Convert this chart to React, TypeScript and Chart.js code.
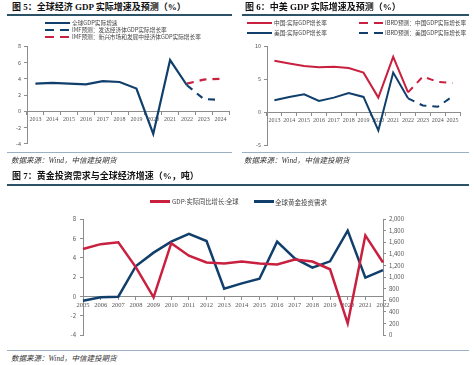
import React, { useEffect, useRef } from "react";
import { Chart, registerables } from "chart.js";
Chart.register(...registerables);

// ---------- Chart 5 data ----------
const years5 = ["2013", "2014", "2015", "2016", "2017", "2018", "2019", "2020", "2021", "2022", "2023", "2024"];
const world5 = [3.4, 3.5, 3.4, 3.3, 3.7, 3.6, 2.8, -2.8, 6.3, 3.2, null, null];
const advanced5 = [null, null, null, null, null, null, null, null, null, 3.2, 1.5, 1.4];
const emerging5 = [null, null, null, null, null, null, null, null, null, 3.4, 3.9, 4.0];

// ---------- Chart 6 data ----------
const years6 = ["2013", "2014", "2015", "2016", "2017", "2018", "2019", "2020", "2021", "2022", "2023", "2024", "2025"];
const china6 = [7.8, 7.4, 7.0, 6.8, 6.9, 6.7, 6.0, 2.2, 8.4, 3.0, null, null, null];
const us6 = [1.8, 2.3, 2.7, 1.7, 2.2, 2.9, 2.3, -2.8, 6.0, 2.1, null, null, null];
const chinaF6 = [null, null, null, null, null, null, null, null, null, 3.0, 5.4, 4.6, 4.4];
const usF6 = [null, null, null, null, null, null, null, null, null, 2.1, 1.0, 0.8, 2.4];

// ---------- Chart 7 data ----------
const years7 = ["2005", "2006", "2007", "2008", "2009", "2010", "2011", "2012", "2013", "2014", "2015", "2016", "2017", "2018", "2019", "2020", "2021", "2022"];
const gdp7 = [4.9, 5.4, 5.6, 3.0, -0.1, 5.5, 4.2, 3.5, 3.4, 3.6, 3.4, 3.3, 3.8, 3.6, 2.8, -2.8, 6.3, 3.5];
const gold7 = [590, 650, 660, 1190, 1420, 1610, 1745, 1620, 800, 890, 970, 1610, 1320, 1160, 1270, 1800, 990, 1120];

const RED = "#c9203f";
const BLUE = "#103f6c";
const AXIS = "#8c8c8c";
const TICK = "#555555";
const SERIF = "'Liberation Serif', 'Times New Roman', serif";
const SANS = "'Noto Sans CJK SC', 'Noto Sans', sans-serif";

function lineDs(data: (number | null)[], color: string, width: number, dashed: boolean, extra: any = {}) {
  return {
    data,
    borderColor: color,
    backgroundColor: color,
    borderWidth: width,
    pointRadius: 0,
    tension: 0,
    fill: false,
    borderDash: dashed ? [7, 6] : [],
    spanGaps: false,
    ...extra,
  };
}

function axisX(size: number) {
  return {
    type: "category" as const,
    position: { y: 0 },
    offset: true,
    grid: { offset: true, drawOnChartArea: false, drawTicks: true, tickLength: 3, color: AXIS },
    border: { display: true, color: AXIS, width: 1 },
    ticks: { font: { family: SERIF, size }, color: TICK, padding: 2, maxRotation: 0, autoSkip: false },
  };
}

function makeChart5(canvas: HTMLCanvasElement) {
  return new Chart(canvas, {
    type: "line",
    data: {
      labels: years5,
      datasets: [
        lineDs(world5, BLUE, 2.2, false),
        lineDs(advanced5, BLUE, 2.2, true),
        lineDs(emerging5, RED, 2.2, true),
      ],
    },
    options: {
      responsive: false,
      animation: false,
      layout: { padding: { top: 5, right: 6, bottom: 5, left: 0 } },
      plugins: { legend: { display: false }, tooltip: { enabled: false } },
      scales: {
        x: axisX(6),
        y: {
          min: -4,
          max: 8,
          ticks: { stepSize: 2, font: { family: SANS, size: 5.5 }, color: TICK, padding: 3 },
          grid: { drawOnChartArea: false, drawTicks: true, tickLength: 3, color: AXIS },
          border: { display: true, color: AXIS },
          afterFit: (s: any) => { s.width = 27; },
        },
      },
    } as any,
  });
}

function makeChart6(canvas: HTMLCanvasElement) {
  return new Chart(canvas, {
    type: "line",
    data: {
      labels: years6,
      datasets: [
        lineDs(china6, RED, 2, false),
        lineDs(us6, BLUE, 2, false),
        lineDs(chinaF6, RED, 2, true),
        lineDs(usF6, BLUE, 2, true),
      ],
    },
    options: {
      responsive: false,
      animation: false,
      layout: { padding: { top: 3, right: 14, bottom: 7, left: 0 } },
      plugins: { legend: { display: false }, tooltip: { enabled: false } },
      scales: {
        x: axisX(6),
        y: {
          min: -5,
          max: 10,
          ticks: { stepSize: 5, font: { family: SANS, size: 5.5 }, color: TICK, padding: 3 },
          grid: { drawOnChartArea: false, drawTicks: true, tickLength: 3, color: AXIS },
          border: { display: true, color: AXIS },
          afterFit: (s: any) => { s.width = 30; },
        },
      },
    } as any,
  });
}

function makeChart7(canvas: HTMLCanvasElement) {
  return new Chart(canvas, {
    type: "line",
    data: {
      labels: years7,
      datasets: [
        lineDs(gdp7, RED, 2.5, false, { yAxisID: "y" }),
        lineDs(gold7, BLUE, 2.5, false, { yAxisID: "y1" }),
      ],
    },
    options: {
      responsive: false,
      animation: false,
      layout: { padding: { top: 29, right: 0, bottom: 10, left: 0 } },
      plugins: { legend: { display: false }, tooltip: { enabled: false } },
      scales: {
        x: {
          type: "category",
          position: { y: 0 },
          offset: false,
          grid: { offset: false, drawOnChartArea: false, drawTicks: true, tickLength: 3, color: AXIS },
          border: { display: true, color: AXIS },
          ticks: { font: { family: SERIF, size: 6.5 }, color: TICK, padding: 2, maxRotation: 0, autoSkip: false },
        },
        y: {
          position: "left",
          min: -4,
          max: 8,
          ticks: { stepSize: 2, font: { family: SANS, size: 6 }, color: TICK, padding: 4 },
          grid: { drawOnChartArea: false, drawTicks: true, tickLength: 3, color: AXIS },
          border: { display: true, color: AXIS },
          afterFit: (s: any) => { s.width = 83; },
        },
        y1: {
          position: "right",
          min: 0,
          max: 2000,
          ticks: {
            stepSize: 200,
            font: { family: SANS, size: 6 },
            color: TICK,
            padding: 3,
            callback: (v: any) => Number(v).toLocaleString("en-US"),
          },
          grid: { drawOnChartArea: false, drawTicks: true, tickLength: 3, color: AXIS },
          border: { display: true, color: AXIS },
          afterFit: (s: any) => { s.width = 91; },
        },
      },
    } as any,
  });
}

function LegendLine({ x, y, w, color, dashed, thick = 2.2 }: any) {
  const bg = dashed
    ? `repeating-linear-gradient(to right, ${color} 0px, ${color} 9px, transparent 9px, transparent 15px)`
    : color;
  return (
    <div style={{ position: "absolute", left: x, top: y - thick / 2, width: w, height: thick, background: bg }} />
  );
}

function LegendText({ x, y, text, size = 5.7 }: any) {
  return (
    <div
      style={{
        position: "absolute",
        left: x,
        top: y - 5,
        height: 10,
        lineHeight: "10px",
        fontSize: size,
        fontFamily: SANS,
        color: "#444",
        whiteSpace: "nowrap",
      }}
    >
      {text}
    </div>
  );
}

function Title({ x, y, text }: any) {
  return (
    <div
      style={{
        position: "absolute",
        left: x,
        top: y - 6,
        height: 12,
        lineHeight: "12px",
        fontSize: 9,
        fontWeight: "bold",
        fontFamily: `${SERIF.split(",")[0]}, 'Noto Sans CJK SC'`,
        color: "#111",
        whiteSpace: "nowrap",
      }}
    >
      {text}
    </div>
  );
}

function Source({ x, y }: any) {
  return (
    <div
      style={{
        position: "absolute",
        left: x,
        top: y - 6,
        height: 12,
        lineHeight: "12px",
        fontSize: 7.5,
        fontStyle: "italic",
        fontFamily: `${SERIF.split(",")[0]}, 'Noto Sans CJK SC'`,
        color: "#333",
        whiteSpace: "nowrap",
      }}
    >
      数据来源：Wind，中信建投期货
    </div>
  );
}

function HLine({ x, y, w, color, t }: any) {
  return <div style={{ position: "absolute", left: x, top: y - t / 2, width: w, height: t, background: color }} />;
}

export default function App() {
  const c5 = useRef<HTMLCanvasElement>(null);
  const c6 = useRef<HTMLCanvasElement>(null);
  const c7 = useRef<HTMLCanvasElement>(null);

  useEffect(() => {
    const charts = [makeChart5(c5.current!), makeChart6(c6.current!), makeChart7(c7.current!)];
    return () => charts.forEach((c) => c.destroy());
  }, []);

  const DARK = "#2b5266";
  const LIGHT = "#9bb0c2";

  return (
    <div style={{ position: "fixed", left: 0, top: 0, width: 474, height: 365, background: "#fff", overflow: "hidden" }}>
      <canvas ref={c5} width={235} height={110} style={{ position: "absolute", left: 0, top: 40, width: 235, height: 110 }} />
      <canvas ref={c6} width={237} height={112} style={{ position: "absolute", left: 237, top: 40, width: 237, height: 112 }} />
      <canvas ref={c7} width={474} height={155} style={{ position: "absolute", left: 0, top: 190, width: 474, height: 155 }} />

      <Title x={12} y={7} text="图 5：全球经济 GDP 实际增速及预测（%）" />
      <Title x={245} y={7} text="图 6：中美 GDP 实际增速及预测（%）" />
      <HLine x={7} y={15} w={225} color={DARK} t={1.5} />
      <HLine x={242} y={15} w={227} color={DARK} t={1.5} />

      <LegendLine x={45} y={23} w={25} color={BLUE} />
      <LegendText x={72} y={23} text="全球GDP实际增速" />
      <LegendLine x={45} y={30} w={25} color={BLUE} dashed />
      <LegendText x={72} y={30} text="IMF预测：发达经济体GDP实际增长率" />
      <LegendLine x={45} y={37} w={25} color={RED} dashed />
      <LegendText x={72} y={37} text="IMF预测：新兴市场和发展中经济体GDP实际增长率" />

      <LegendLine x={247} y={23} w={25} color={RED} thick={2.5} />
      <LegendText x={274} y={23} text="中国:实际GDP增长率" />
      <LegendLine x={247} y={33} w={25} color={BLUE} thick={2.5} />
      <LegendText x={274} y={33} text="美国:实际GDP增长率" />
      <LegendLine x={359} y={23} w={24} color={RED} dashed thick={2.5} />
      <LegendText x={385} y={23} text="IBRD预测：中国GDP实际增长率" />
      <LegendLine x={359} y={33} w={24} color={BLUE} dashed thick={2.5} />
      <LegendText x={385} y={33} text="IBRD预测：美国GDP实际增长率" />

      <HLine x={7} y={152} w={225} color={LIGHT} t={1} />
      <HLine x={242} y={152} w={227} color={LIGHT} t={1} />
      <Source x={11} y={161} />
      <Source x={244} y={161} />

      <Title x={12} y={176} text="图 7：黄金投资需求与全球经济增速（%，吨）" />
      <HLine x={7} y={185} w={462} color={DARK} t={1.5} />

      <LegendLine x={150} y={201.5} w={20} color={RED} thick={2.5} />
      <LegendText x={172} y={201.5} text="GDP:实际同比增长:全球" size={6.3} />
      <LegendLine x={254} y={201.5} w={20} color={BLUE} thick={2.5} />
      <LegendText x={275} y={201.5} text="全球黄金投资需求" size={6.5} />

      <HLine x={7} y={350} w={462} color={LIGHT} t={1} />
      <Source x={11} y={359} />
    </div>
  );
}
